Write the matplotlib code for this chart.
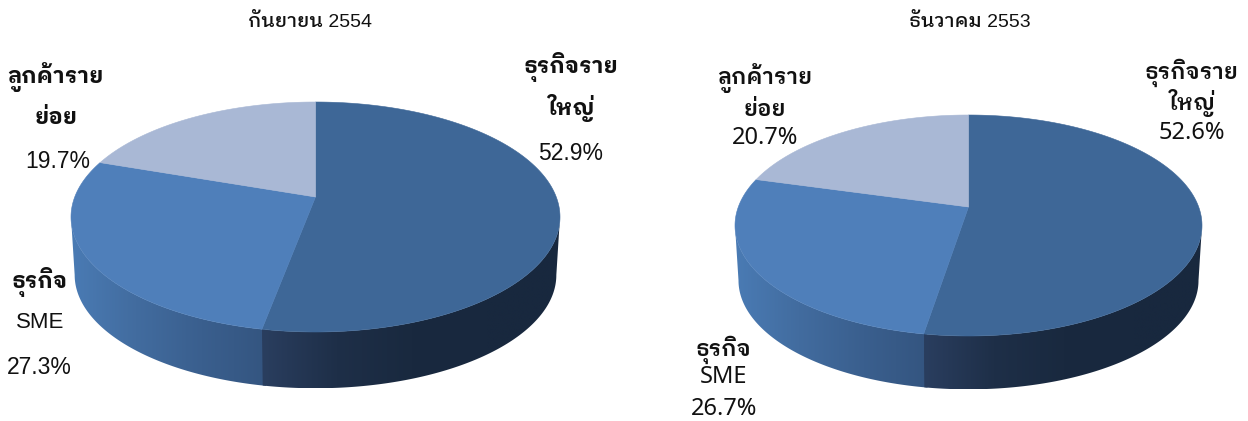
import numpy as np
import matplotlib
matplotlib.use("Agg")
import matplotlib.pyplot as plt
from matplotlib.colors import LinearSegmentedColormap
from matplotlib.patches import Polygon

# Portfolio shares, clockwise from twelve o'clock
segments = ["ธุรกิจรายใหญ่", "ธุรกิจ SME", "ลูกค้ารายย่อย"]
shares_sep_2554 = [52.9, 27.3, 19.7]
shares_dec_2553 = [52.6, 26.7, 20.7]
titles = ["กันยายน 2554", "ธันวาคม 2553"]

W, H = 1248, 421
THAI_FONT = "IBM Plex Sans Thai Looped"
TOP_COLORS = ["#3E6797", "#4F7FBA", "#A9B8D5"]
WALL_STOPS = [
    ["#2A3E5F", "#1E2F48", "#19293F", "#18283E", "#18283E"],
    ["#4A7BB4", "#426C9F", "#3A5F8E", "#345580"],
    ["#A9B8D5", "#A9B8D5"],
]

fig = plt.figure(figsize=(W / 100, H / 100), dpi=100)
ax = fig.add_axes([0, 0, 1, 1])


def rim(theta, cx, apex_y, half_w, up, down):
    """Project unit-circle angles (clockwise from the far point) onto the tilted disc."""
    b = (down - up) / (down + up)
    a = up * (1 + b)
    c = half_w * np.sqrt(1 - b * b)
    u, v = np.sin(theta), np.cos(theta)
    w = 1 + b * v
    return cx + c * u / w, apex_y - a * v / w


def draw_pie(shares, cx, apex_y, half_w, up, down, depth, shrink):
    bounds = np.radians(np.cumsum([0] + list(shares)) / sum(shares) * 360)
    ellipse_mid = apex_y + (down - up) / 2

    # The wall only shows along the front of the disc, between its widest points
    sweep = np.linspace(0, 2 * np.pi, 2881)
    sx, _ = rim(sweep, cx, apex_y, half_w, up, down)
    front_start, front_end = sweep[np.argmax(sx)], sweep[np.argmin(sx)]

    for i in reversed(range(len(shares))):
        lo = max(bounds[i] - (0.012 if i else 0), front_start)
        hi = min(bounds[i + 1], front_end)
        if hi <= lo:
            continue
        t = np.linspace(lo, hi, 240)
        x, y = rim(t, cx, apex_y, half_w, up, down)
        x2 = cx + (x - cx) * shrink
        y2 = ellipse_mid + (y - ellipse_mid) * shrink + depth
        outline = np.r_[np.c_[x, y], np.c_[x2, y2][::-1]]
        patch = Polygon(outline, closed=True, fc="none", ec="none", transform=ax.transData)
        ax.add_patch(patch)
        cmap = LinearSegmentedColormap.from_list(f"wall{i}", WALL_STOPS[i])
        img = ax.imshow(np.linspace(0, 1, 256)[None, :], cmap=cmap, aspect="auto",
                        extent=[outline[:, 0].min(), outline[:, 0].max(),
                                outline[:, 1].max(), outline[:, 1].min()],
                        interpolation="bilinear", zorder=2)
        img.set_clip_path(patch)

    for i in range(len(shares)):
        t = np.linspace(bounds[i], bounds[i + 1], 240)
        x, y = rim(t, cx, apex_y, half_w, up, down)
        ax.fill(np.r_[cx, x], np.r_[apex_y, y], fc=TOP_COLORS[i], ec=TOP_COLORS[i], lw=0.4, zorder=3)


def label(x, y, s, size, family, weight="normal"):
    ax.text(x, y, s, fontsize=size, family=family, weight=weight, ha="center", va="center",
            color="#111111", zorder=5)


draw_pie(shares_sep_2554, 315.5, 197, 244.5, 95, 135, 58, 0.985)
draw_pie(shares_dec_2553, 968.5, 207, 233.5, 92, 129, 55, 0.985)

arial = ["Liberation Sans", THAI_FONT]
plex = [THAI_FONT, "Liberation Sans"]
noto = ["Noto Sans", THAI_FONT]

label(310, 22, titles[0], 14, arial, 500)
label(970, 22, titles[1], 14, arial, 500)

# Left pie
label(571, 67, "ธุรกิจราย", 16, plex, "bold")
label(571, 108, "ใหญ่", 16, plex, "bold")
label(571, 153, f"{shares_sep_2554[0]}%", 16.5, arial)
label(56, 77, "ลูกค้าราย", 16, plex, "bold")
label(56, 118, "ย่อย", 16, plex, "bold")
label(58, 162, f"{shares_sep_2554[2]}%", 16.5, arial)
label(40, 282, "ธุรกิจ", 16, plex, "bold")
label(40, 323, "SME", 16, arial)
label(39, 367, f"{shares_sep_2554[1]}%", 16.5, arial)

# Right pie
label(765, 78, "ลูกค้าราย", 16, plex, 600)
label(765, 109, "ย่อย", 16, plex, 600)
label(765, 138, f"{shares_dec_2553[2]}%", 17, noto)
label(1192, 73, "ธุรกิจราย", 16, plex, 600)
label(1192, 103, "ใหญ่", 16, plex, 600)
label(1192, 133, f"{shares_dec_2553[0]}%", 17, noto)
label(723, 350, "ธุรกิจ", 16, plex, 600)
label(724, 377, "SME", 17, noto)
label(724, 409, f"{shares_dec_2553[1]}%", 17, noto)

ax.set_xlim(0, W)
ax.set_ylim(H, 0)
ax.axis("off")
fig.savefig("out.png", dpi=100, facecolor="white")
